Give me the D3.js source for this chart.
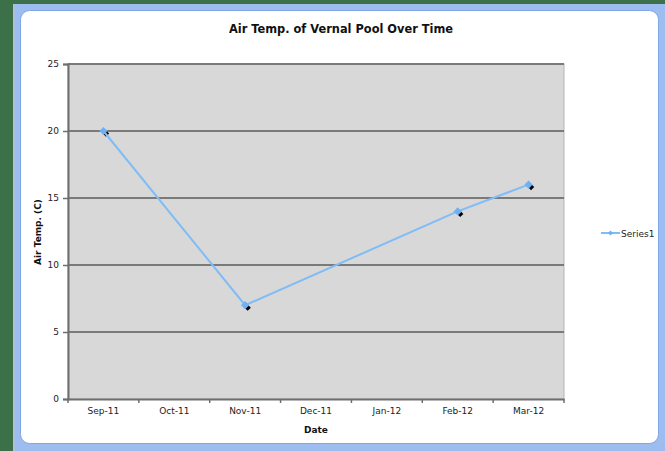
<!DOCTYPE html>
<html><head><meta charset="utf-8">
<script src="https://cdn.jsdelivr.net/npm/d3@7"></script>
<style>html,body{margin:0;padding:0;background:#3b7048;}svg{display:block;}</style>
</head><body>
<script>
const categories = ["Sep-11","Oct-11","Nov-11","Dec-11","Jan-12","Feb-12","Mar-12"];
const seriesValues = [20, null, 7, null, null, 14, 16];
const yTicks = [0,5,10,15,20,25];
const seriesName = "Series1";
const titleText = "Air Temp. of Vernal Pool Over Time";
const xTitle = "Date";
const yTitle = "Air Temp. (C)";

const W = 665, H = 451;
const svg = d3.select("body").append("svg").attr("width", W).attr("height", H);

// background + frame
svg.append("rect").attr("x",0).attr("y",0).attr("width",W).attr("height",H).attr("fill","#3b7048");
svg.append("rect").attr("x",13).attr("y",4).attr("width",W-13).attr("height",H-4).attr("fill","#9dbdf0");
svg.append("rect").attr("x",13).attr("y",4).attr("width",1.5).attr("height",H-4).attr("fill","#b8c0c8");
svg.append("rect").attr("x",20.5).attr("y",10.5).attr("width",638).attr("height",433)
  .attr("rx",9).attr("fill","#ffffff").attr("stroke","#7fa6e6").attr("stroke-width",1);

const m = {l:68, r:564, t:64, b:399};
const x = d3.scaleBand().domain(categories).range([m.l, m.r]);
const y = d3.scaleLinear().domain([0,25]).range([m.b, m.t]);

svg.append("rect").attr("x",m.l).attr("y",m.t).attr("width",m.r-m.l).attr("height",m.b-m.t)
  .attr("fill","#d8d8d8").attr("stroke","#b4b4b4").attr("stroke-width",1);

// gridlines
svg.append("g").selectAll("line").data(yTicks.filter(d=>d>0)).join("line")
  .attr("x1",m.l).attr("x2",m.r).attr("y1",d=>y(d)).attr("y2",d=>y(d))
  .attr("stroke","#7a7a7a").attr("stroke-width",2);

// y axis
const yAxis = svg.append("g").attr("transform",`translate(${m.l},0)`)
  .call(d3.axisLeft(y).tickValues(yTicks).tickSize(5).tickPadding(4));
yAxis.select(".domain").attr("stroke","#6e6e6e").attr("stroke-width",2);
yAxis.selectAll(".tick line").attr("stroke","#6e6e6e").attr("stroke-width",1.5);
yAxis.selectAll("text").attr("font-family","DejaVu Sans, sans-serif").attr("font-size","9px").attr("fill","#222");

// x axis
const xAxis = svg.append("g").attr("transform",`translate(0,${m.b})`)
  .call(d3.axisBottom(x).tickSize(0).tickPadding(9));
xAxis.select(".domain").attr("stroke","#6e6e6e").attr("stroke-width",2);
xAxis.selectAll("text").attr("font-family","DejaVu Sans, sans-serif").attr("font-size","9px").attr("fill","#222");
// boundary ticks
const bounds = categories.map(c=>x(c)).concat([m.r]);
svg.append("g").selectAll("line").data(bounds).join("line")
  .attr("x1",d=>d).attr("x2",d=>d).attr("y1",m.b).attr("y2",m.b+4)
  .attr("stroke","#6e6e6e").attr("stroke-width",1.5);

// data
const pts = categories.map((c,i)=>({c, v:seriesValues[i]})).filter(d=>d.v!=null);
const cx = d=>x(d.c)+x.bandwidth()/2;
const line = d3.line().x(cx).y(d=>y(d.v));
const marker = d3.symbol().type(d3.symbolSquare).size(34);
const shadow = d3.symbol().type(d3.symbolSquare).size(20);
// black shadow markers
svg.append("g").selectAll("path").data(pts).join("path")
  .attr("d",shadow).attr("transform",d=>`translate(${cx(d)+2.5},${y(d.v)+2.5}) rotate(45)`).attr("fill","#000");
svg.append("path").datum(pts).attr("d",line).attr("fill","none").attr("stroke","#80bcf5").attr("stroke-width",2);
svg.append("g").selectAll("path").data(pts).join("path")
  .attr("d",marker).attr("transform",d=>`translate(${cx(d)},${y(d.v)}) rotate(45)`).attr("fill","#6fb0f5");

// titles
svg.append("text").attr("x",341).attr("y",33).attr("text-anchor","middle")
  .attr("font-family","DejaVu Sans, sans-serif").attr("font-weight","bold").attr("font-size","11.4px").attr("fill","#111").text(titleText);
svg.append("text").attr("x",316).attr("y",433).attr("text-anchor","middle")
  .attr("font-family","DejaVu Sans, sans-serif").attr("font-weight","bold").attr("font-size","9px").attr("fill","#111").text(xTitle);
svg.append("text").attr("transform","translate(41,232) rotate(-90)").attr("text-anchor","middle")
  .attr("font-family","DejaVu Sans, sans-serif").attr("font-weight","bold").attr("font-size","9px").attr("fill","#111").text(yTitle);

// legend
const lg = svg.append("g").attr("transform","translate(601,233)");
lg.append("line").attr("x1",0).attr("x2",19).attr("y1",0).attr("y2",0).attr("stroke","#80bcf5").attr("stroke-width",2);
lg.append("path").attr("d",d3.symbol().type(d3.symbolSquare).size(12)).attr("transform","translate(9.5,0) rotate(45)").attr("fill","#6fb0f5");
lg.append("text").attr("x",20).attr("y",3.5).attr("font-family","DejaVu Sans, sans-serif").attr("font-size","9px").attr("fill","#222").text(seriesName);
</script>
</body></html>
